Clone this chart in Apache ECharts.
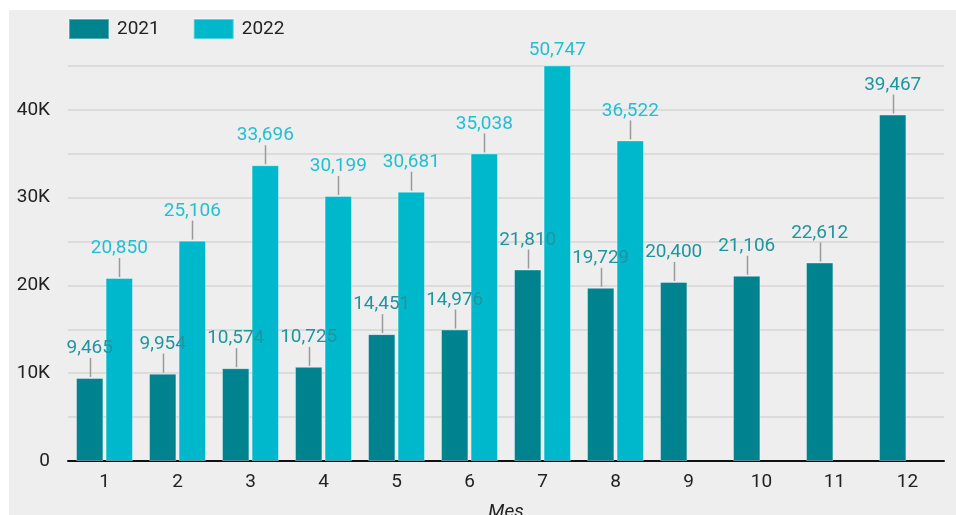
<!DOCTYPE html>
<html>
<head>
<meta charset="utf-8">
<script src="https://cdn.jsdelivr.net/npm/echarts@6/dist/echarts.min.js"></script>
<style>
  html, body { margin: 0; padding: 0; background: #ffffff; overflow: hidden; }
  #chart { position: absolute; left: 9px; top: 10px; width: 947px; height: 505px; background: #eeeeee; }
</style>
</head>
<body>
<div id="chart"></div>
<script>
const categories = ['1','2','3','4','5','6','7','8','9','10','11','12'];
const seriesNames = ['2021', '2022'];
const values2021 = [9465, 9954, 10574, 10725, 14451, 14976, 21810, 19729, 20400, 21106, 22612, 39467];
const values2022 = [20850, 25106, 33696, 30199, 30681, 35038, 50747, 36522, null, null, null, null];
const yMax = 45000;
const BAR_GAP = '8%';
const CAT_GAP = '22%';

const chart = echarts.init(document.getElementById('chart'), null, { renderer: 'canvas' });
const fmt = v => Number(v).toLocaleString('en-US');

function buildData(arr) {
  return arr.map(v => {
    if (v == null) return null;
    if (v > yMax) return { value: v, label: { distance: 6 } };
    return v;
  });
}

function makeSeries(name, arr, color, labelColor) {
  return {
    name: name,
    type: 'bar',
    data: buildData(arr),
    barGap: BAR_GAP,
    barCategoryGap: CAT_GAP,
    itemStyle: { color: color, borderColor: 'rgba(255,255,255,0.35)', borderWidth: 1 },
    label: {
      show: true,
      position: 'top',
      distance: 20,
      color: labelColor,
      fontFamily: 'Roboto',
      fontSize: 19,
      formatter: p => fmt(p.value)
    },
    z: 3,
    animation: false
  };
}

const leaderData = categories.map((c, i) => [i, values2021[i] == null ? '-' : values2021[i], values2022[i] == null ? '-' : values2022[i]]);

chart.setOption({
  animation: false,
  textStyle: { fontFamily: 'Roboto' },
  legend: {
    left: 59, top: 8, padding: 0,
    itemWidth: 40, itemHeight: 20, itemGap: 33,
    icon: 'rect',
    textStyle: { fontFamily: 'Roboto', fontSize: 19, color: '#222', padding: [0, 0, 0, 3] },
    data: seriesNames
  },
  grid: { left: 59, right: 12, top: 56, bottom: 54, containLabel: false, outerBoundsMode: 'none' },
  xAxis: {
    type: 'category',
    data: categories,
    name: 'Mes',
    nameLocation: 'middle',
    nameGap: 42,
    nameTextStyle: { fontFamily: 'Roboto', fontSize: 19, fontStyle: 'italic', color: '#222' },
    axisLine: { lineStyle: { color: '#111', width: 2 } },
    axisTick: { show: false },
    axisLabel: { fontFamily: 'Roboto', fontSize: 19, color: '#222', margin: 12 }
  },
  yAxis: {
    type: 'value',
    min: 0, max: yMax, interval: 5000,
    axisLine: { show: false },
    axisTick: { show: false },
    splitLine: { lineStyle: { color: '#d4d4d4', width: 1.5 } },
    axisLabel: {
      fontFamily: 'Roboto', fontSize: 19, color: '#222', margin: 18,
      formatter: v => (v % 10000 === 0 ? (v === 0 ? '0' : (v / 1000) + 'K') : '')
    }
  },
  series: [
    makeSeries(seriesNames[0], values2021, '#00838f', '#1f959e'),
    makeSeries(seriesNames[1], values2022, '#00b8cc', '#22bfd3'),
    {
      type: 'custom',
      name: 'leaders',
      silent: true,
      z: 2,
      data: leaderData,
      encode: { x: 0, y: [1, 2] },
      renderItem: function (params, api) {
        const layout = api.barLayout({ barGap: BAR_GAP, barCategoryGap: CAT_GAP, count: 2 });
        const children = [];
        [1, 2].forEach(function (dim, k) {
          const v = api.value(dim);
          if (v == null || isNaN(v) || v > yMax) return;
          const p = api.coord([api.value(0), v]);
          const x = Math.round(p[0] + layout[k].offsetCenter) + 0.5;
          children.push({
            type: 'line',
            shape: { x1: x, y1: p[1] - 1, x2: x, y2: p[1] - 20 },
            style: { stroke: '#9a9a9a', lineWidth: 1.5 }
          });
        });
        return { type: 'group', children: children };
      }
    }
  ]
});
</script>
</body>
</html>
